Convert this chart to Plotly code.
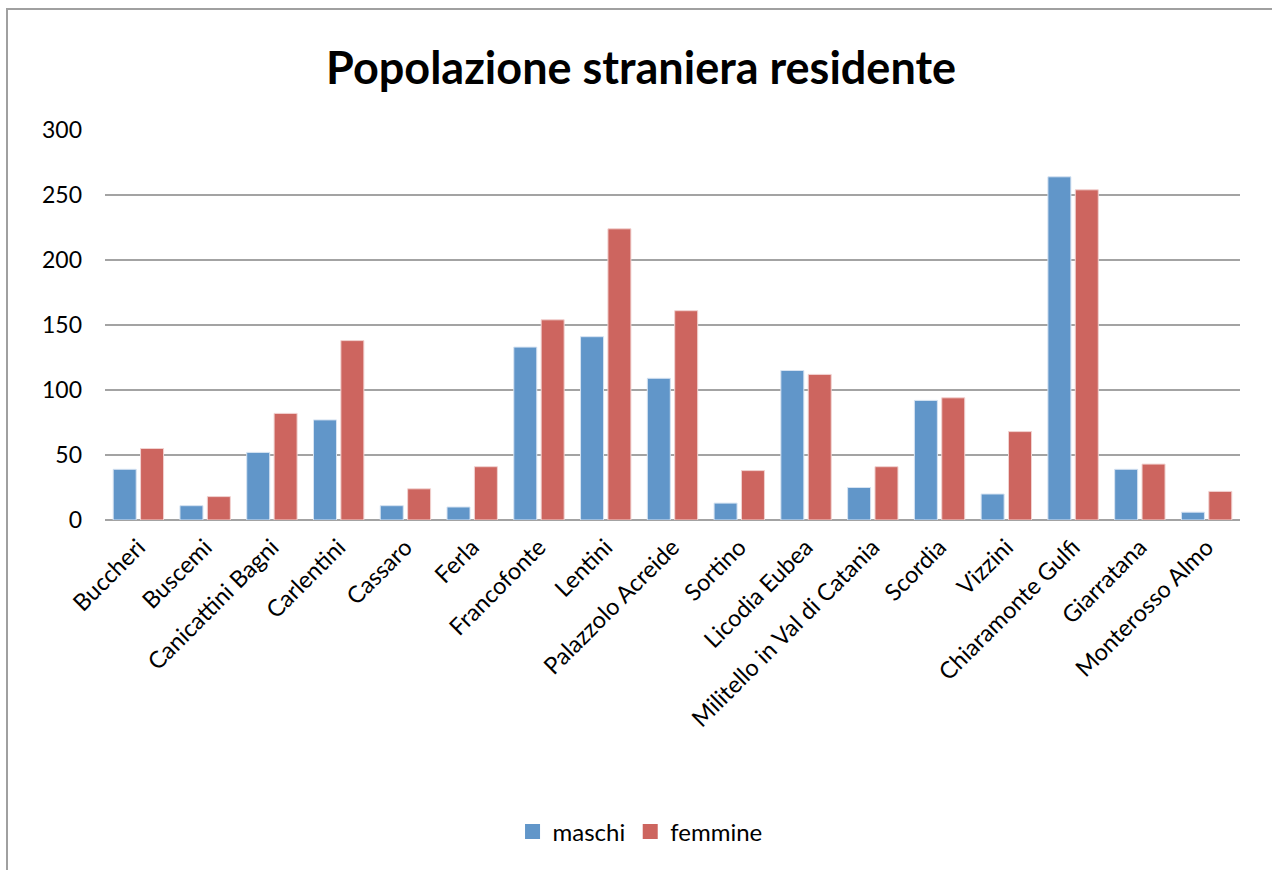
import plotly.graph_objects as go

# Comuni e popolazione straniera residente per sesso
comuni = [
    "Buccheri", "Buscemi", "Canicattini Bagni", "Carlentini", "Cassaro",
    "Ferla", "Francofonte", "Lentini", "Palazzolo Acreide", "Sortino",
    "Licodia Eubea", "Militello in Val di Catania", "Scordia", "Vizzini",
    "Chiaramonte Gulfi", "Giarratana", "Monterosso Almo",
]
maschi = [39, 11, 52, 77, 11, 10, 133, 141, 109, 13, 115, 25, 92, 20, 264, 39, 6]
femmine = [55, 18, 82, 138, 24, 41, 154, 224, 161, 38, 112, 41, 94, 68, 254, 43, 22]

y_ticks = [0, 50, 100, 150, 200, 250, 300]

FONT = "Lato"
BLUE = "#6196C9"
RED = "#CD655F"

fig = go.Figure()
fig.add_trace(go.Bar(
    name="maschi", x=comuni, y=maschi, showlegend=False,
    marker=dict(color=BLUE, line=dict(color="#D6E3F2", width=1)),
))
fig.add_trace(go.Bar(
    name="femmine", x=comuni, y=femmine, showlegend=False,
    marker=dict(color=RED, line=dict(color="#F1D2D0", width=1)),
))

# Legend entries with square swatches
for name, color in (("maschi", BLUE), ("femmine", RED)):
    fig.add_trace(go.Scatter(
        name=name, x=[None], y=[None], mode="markers",
        marker=dict(symbol="square", size=15, color=color),
        showlegend=True,
    ))

fig.update_layout(
    width=1272, height=870,
    margin=dict(l=105, r=32, t=130, b=350),
    paper_bgcolor="white", plot_bgcolor="white",
    barmode="group", bargap=0.18, bargroupgap=0.16,
    font=dict(family=FONT, size=23, color="black"),
    title=dict(
        text="<b>Popolazione straniera residente</b>",
        x=0.504, xanchor="center", y=1 - 68 / 870, yanchor="middle",
        font=dict(family=FONT, size=45, color="black"),
    ),
    legend=dict(
        orientation="h", x=0.4714, xanchor="center", y=-0.8, yanchor="middle",
        font=dict(family=FONT, size=24, color="black"),
        itemwidth=30, traceorder="normal",
    ),
    showlegend=True,
)

fig.update_yaxes(
    range=[0, 300], tickvals=y_ticks, ticktext=[str(v) for v in y_ticks],
    showgrid=True, gridcolor="#A3A3A3", gridwidth=1.5,
    zeroline=True, zerolinecolor="#A3A3A3", zerolinewidth=1.5,
    showline=False, ticks="", ticklabelstandoff=22,
    tickfont=dict(family=FONT, size=23, color="black"),
    fixedrange=True,
)
fig.update_xaxes(
    tickangle=-45, showgrid=False, showline=False, ticks="",
    ticklabelstandoff=8,
    tickfont=dict(family=FONT, size=23.5, color="black"),
    fixedrange=True,
)

# Chart-area frame
fig.add_shape(
    type="rect", xref="paper", yref="paper",
    x0=(7 - 105) / 1135, x1=1.2, y0=-2.0, y1=(520 - 9) / 390,
    line=dict(color="#A0A0A0", width=2), fillcolor="rgba(0,0,0,0)",
    layer="below",
)

fig.write_html("out.html")
